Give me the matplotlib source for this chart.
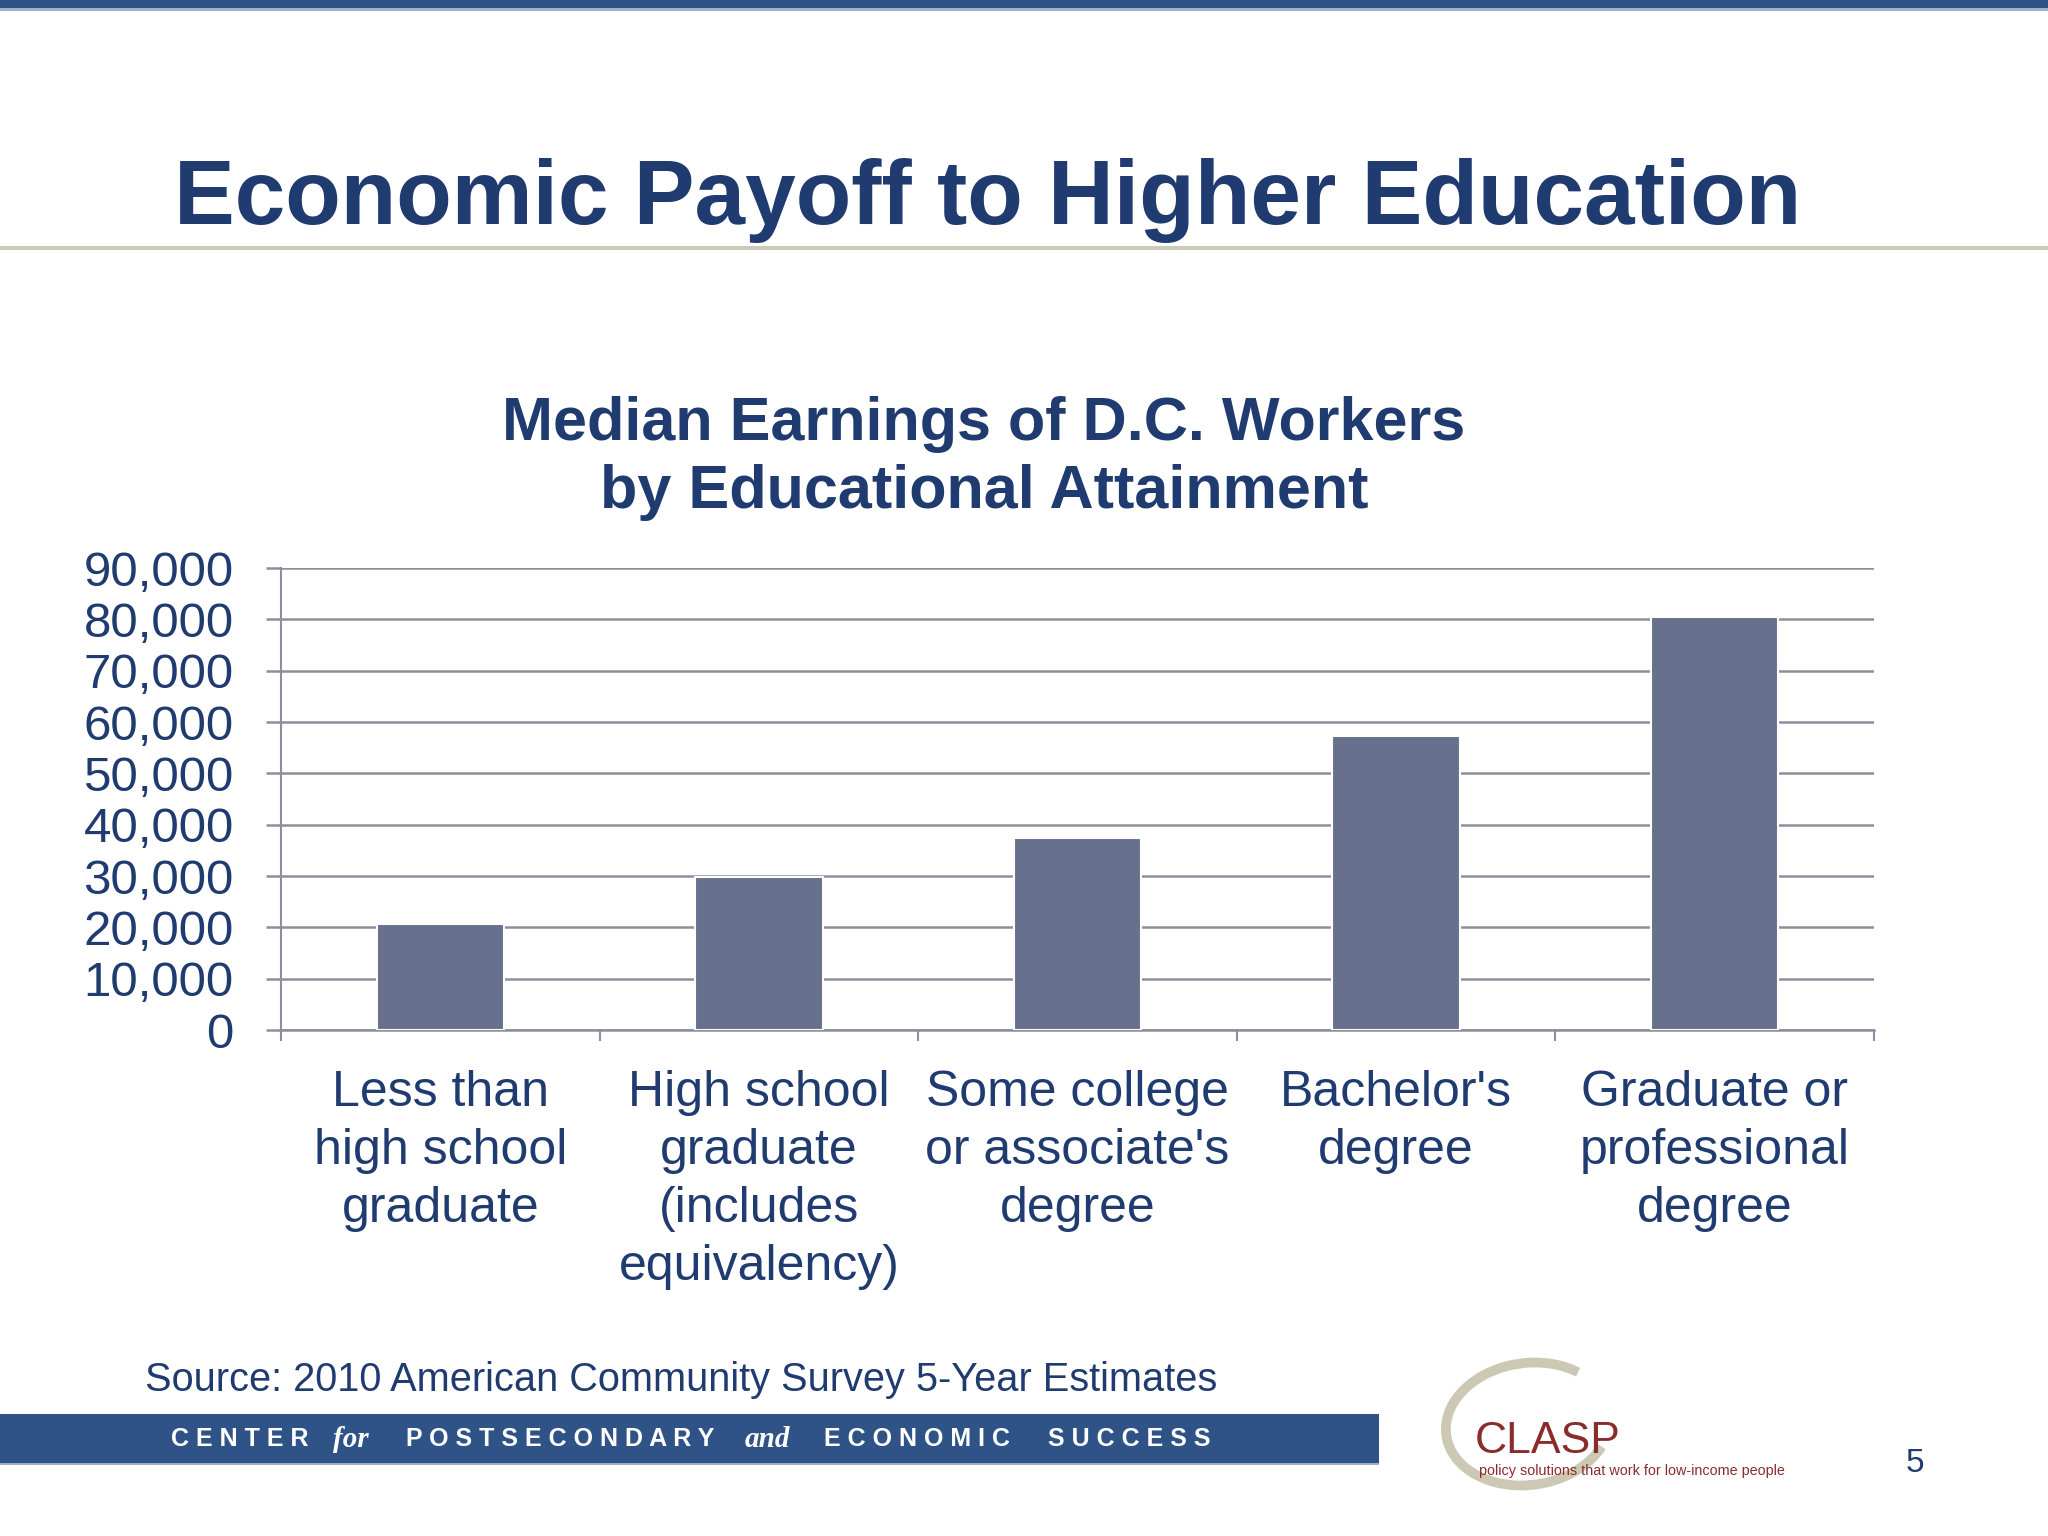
import matplotlib
matplotlib.use('Agg')
import numpy as np
from matplotlib import pyplot as plt
from matplotlib.patches import Rectangle, Arc

plt.rcParams['font.family'] = ['Liberation Sans', 'DejaVu Sans']

categories = ['Less than\nhigh school\ngraduate',
              'High school\ngraduate\n(includes\nequivalency)',
              "Some college\nor associate's\ndegree",
              "Bachelor's\ndegree",
              'Graduate or\nprofessional\ndegree']
earnings = [20600, 29800, 37400, 57200, 80500]
y_ticks = [0, 10000, 20000, 30000, 40000, 50000, 60000, 70000, 80000, 90000]
y_tick_labels = ['{:,}'.format(v) for v in y_ticks]

title = 'Economic Payoff to Higher Education'
chart_title = 'Median Earnings of D.C. Workers\nby Educational Attainment'
source = 'Source: 2010 American Community Survey 5-Year Estimates'

navy = '#1f3b70'
band_blue = '#2f5386'
bar_color = '#67718e'
grid_color = '#8e8e9c'
clasp_red = '#8b2c2c'

W, H = 2048, 1536
fig = plt.figure(figsize=(W / 100, H / 100), dpi=100)
fig.patch.set_facecolor('white')

# overlay in pixel coordinates (y measured from the top)
bg = fig.add_axes([0, 0, 1, 1], zorder=0)
bg.set_xlim(0, W)
bg.set_ylim(H, 0)
bg.axis('off')

# top band and title rule
bg.add_patch(Rectangle((0, 0), W, 8, color=band_blue, lw=0))
bg.add_patch(Rectangle((0, 8), W, 3, color='#9fb0c8', lw=0))
bg.add_patch(Rectangle((0, 246), W, 4, color='#c9ccb9', lw=0))

bg.text(988, 224, title, fontsize=65.5, fontweight='bold', color=navy,
        ha='center', va='baseline')
bg.text(984, 521, chart_title, fontsize=44, fontweight='bold', color=navy,
        ha='center', va='bottom', multialignment='center', linespacing=1.24)

bg.text(145, 1391, source, fontsize=28.6, color=navy, ha='left', va='baseline')

# footer band
bg.add_patch(Rectangle((0, 1414), 1379, 49, color=band_blue, lw=0))
bg.add_patch(Rectangle((0, 1463), 1379, 2, color='#9fb0c8', lw=0))
footer = [('C E N T E R', 240, False), ('for', 351, True),
          ('P O S T S E C O N D A R Y', 560, False), ('and', 767, True),
          ('E C O N O M I C', 917, False), ('S U C C E S S', 1129, False)]
for word, xc, ital in footer:
    if ital:
        bg.text(xc, 1447, word, fontsize=21, color='white', ha='center',
                va='baseline', family='Liberation Serif', style='italic',
                fontweight='bold')
    else:
        bg.text(xc, 1446, word, fontsize=18, color='white', ha='center',
                va='baseline', fontweight='bold')

# CLASP logo
bg.add_patch(Arc((1528, 1424), 165, 122, angle=-8, theta1=25, theta2=322,
                 color='#cdc8b4', lw=7))
bg.text(1475, 1453, 'CLASP', fontsize=32, color=clasp_red, ha='left',
        va='baseline')
bg.text(1479, 1475, 'policy solutions that work for low-income people',
        fontsize=10.4, color=clasp_red, ha='left', va='baseline')
bg.text(1915, 1472, '5', fontsize=24, color=navy, ha='center', va='baseline')

# the chart
ax = fig.add_axes([281 / W, 1 - 1030 / H, (1874 - 281) / W, (1030 - 568) / H],
                  zorder=1)
ax.patch.set_alpha(0)
x = np.arange(len(categories))
ax.bar(x, earnings, width=0.4, color=bar_color, edgecolor='white',
       linewidth=1.5, zorder=3)
ax.set_xlim(-0.5, len(categories) - 0.5)
ax.set_ylim(0, 90000)
ax.set_yticks(y_ticks)
ax.set_yticklabels(y_tick_labels, fontsize=35.5, color=navy)
ax.set_xticks(x)
ax.set_xticklabels(categories, fontsize=36, color=navy, linespacing=1.33)
ax.set_xticks(np.arange(len(categories) + 1) - 0.5, minor=True)
ax.tick_params(axis='x', which='major', length=0, pad=29)
ax.tick_params(axis='x', which='minor', length=8, width=1.5, color=grid_color,
               direction='out')
ax.tick_params(axis='y', length=11, width=1.8, color=grid_color, pad=23)
ax.grid(axis='y', color=grid_color, lw=1.8, zorder=0)
for s in ['top', 'right']:
    ax.spines[s].set_visible(False)
ax.spines['left'].set_color(grid_color)
ax.spines['left'].set_linewidth(1.5)
ax.spines['bottom'].set_color(grid_color)
ax.spines['bottom'].set_linewidth(1.8)

fig.savefig('out.png', dpi=100)
